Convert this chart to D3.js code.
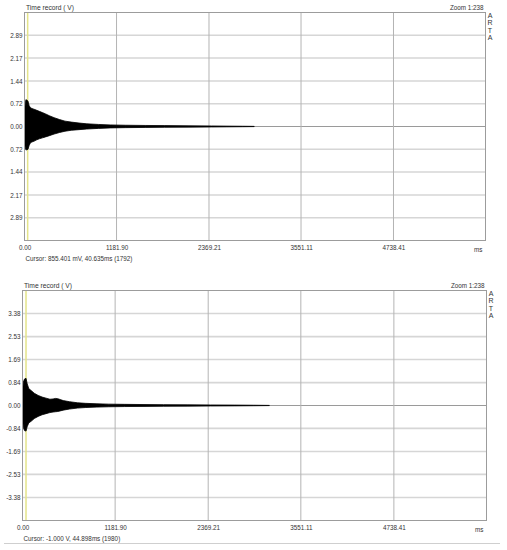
<!DOCTYPE html>
<html><head><meta charset="utf-8">
<script src="https://cdn.jsdelivr.net/npm/d3@7/dist/d3.min.js"></script>
<style>
html,body{margin:0;padding:0;background:#fff;}
svg{display:block;font-family:"Liberation Sans",Arial,sans-serif;}
</style></head>
<body><svg id="c" width="507" height="550"></svg>
<script>
// ---- data ----
const xTickValues = [0, 1181.90, 2369.21, 3551.11, 4738.41];
const xTickLabels = ["0.00", "1181.90", "2369.21", "3551.11", "4738.41"];
const xMax = 5920;

const topYValues = [2.89, 2.17, 1.44, 0.72, 0, -0.72, -1.44, -2.17, -2.89];
const topYLabels = ["2.89", "2.17", "1.44", "0.72", "0.00", "0.72", "1.44", "2.17", "2.89"];
const topYMax = 3.6125;

const botYValues = [3.38, 2.53, 1.69, 0.84, 0, -0.84, -1.69, -2.53, -3.38];
const botYLabels = ["3.38", "2.53", "1.69", "0.84", "0.00", "-0.84", "-1.69", "-2.53", "-3.38"];
const botYMax = 4.225;

// envelope of the time record (ms, upper V, lower V)
const topTime  = [0, 8, 18, 30, 45, 60, 75, 95, 120, 150, 190, 230, 270, 320, 380, 450, 520, 600, 700, 800, 950, 1100, 1300, 1550, 1800, 2100, 2400, 2600, 2800, 2950];
const topUpper = [0.30, 0.70, 0.85, 0.84, 0.80, 0.66, 0.60, 0.57, 0.55, 0.52, 0.48, 0.44, 0.40, 0.34, 0.28, 0.22, 0.17, 0.14, 0.11, 0.085, 0.065, 0.05, 0.04, 0.033, 0.028, 0.022, 0.017, 0.012, 0.008, 0.004];
const topLower = [-0.30, -0.65, -0.74, -0.74, -0.72, -0.60, -0.52, -0.49, -0.47, -0.43, -0.39, -0.36, -0.33, -0.29, -0.24, -0.19, -0.15, -0.12, -0.10, -0.08, -0.06, -0.045, -0.036, -0.03, -0.025, -0.02, -0.015, -0.011, -0.007, -0.003];

const botTime  = [0, 10, 25, 45, 60, 80, 110, 150, 200, 250, 300, 350, 390, 420, 450, 480, 520, 600, 700, 800, 950, 1100, 1300, 1550, 1800, 2100, 2400, 2700, 2950, 3150];
const botUpper = [0.40, 0.85, 0.97, 1.00, 0.80, 0.62, 0.55, 0.45, 0.37, 0.31, 0.27, 0.23, 0.24, 0.26, 0.25, 0.22, 0.18, 0.14, 0.10, 0.08, 0.062, 0.05, 0.042, 0.035, 0.03, 0.025, 0.02, 0.016, 0.01, 0.004];
const botLower = [-0.40, -0.80, -0.92, -0.94, -0.78, -0.64, -0.58, -0.48, -0.40, -0.34, -0.30, -0.26, -0.24, -0.23, -0.22, -0.20, -0.17, -0.13, -0.095, -0.075, -0.058, -0.047, -0.039, -0.033, -0.028, -0.023, -0.018, -0.014, -0.009, -0.003];

const titleText = "Time record ( V)";
const zoomText = "Zoom 1:238";
const brand = ["A", "R", "T", "A"];
const cursorTexts = ["Cursor: 855.401 mV, 40.635ms (1792)", "Cursor: -1.000 V, 44.898ms (1980)"];
const cursorTimes = [40.635, 44.898];

// ---- drawing ----
const svg = d3.select("#c");

function drawChart(o) {
  const g = svg.append("g");
  const x = d3.scaleLinear().domain([0, xMax]).range([o.left, o.right]);
  const y = d3.scaleLinear().domain([-o.yMax, o.yMax]).range([o.bottom, o.top]);

  // horizontal gridlines
  g.append("g").selectAll("line").data(o.yValues).join("line")
    .attr("x1", o.left).attr("x2", o.right)
    .attr("y1", d => y(d)).attr("y2", d => y(d))
    .attr("stroke", d => d === 0 ? "#9a9a9a" : "#d6d6d6")
    .attr("stroke-width", d => d === 0 ? 1 : 1.6);
  // vertical gridlines
  g.append("g").selectAll("line").data(xTickValues.slice(1)).join("line")
    .attr("x1", d => x(d)).attr("x2", d => x(d))
    .attr("y1", o.top).attr("y2", o.bottom)
    .attr("stroke", "#b4b4b4").attr("stroke-width", 1);

  // y axis labels
  const yAxis = d3.axisLeft(y).tickValues(o.yValues)
    .tickFormat((d, i) => o.yLabels[i]).tickSize(0).tickPadding(2);
  const ya = g.append("g").attr("transform", `translate(${o.left},0)`).call(yAxis);
  ya.select(".domain").remove();
  ya.selectAll("text").attr("font-size", 6.3).attr("fill", "#333")
    .attr("font-family", "Liberation Sans, Arial, sans-serif");

  // x axis labels
  const xAxis = d3.axisBottom(x).tickValues(xTickValues)
    .tickFormat((d, i) => xTickLabels[i]).tickSize(0).tickPadding(5);
  const xa = g.append("g").attr("transform", `translate(0,${o.bottom})`).call(xAxis);
  xa.select(".domain").remove();
  xa.selectAll("text").attr("font-size", 6.3).attr("fill", "#333")
    .attr("font-family", "Liberation Sans, Arial, sans-serif");

  // cursor line
  g.append("line")
    .attr("x1", x(o.cursor)).attr("x2", x(o.cursor))
    .attr("y1", o.top).attr("y2", o.bottom)
    .attr("stroke", "#e4e48a").attr("stroke-width", 1.5);

  // waveform envelope
  const pts = o.time.map((t, i) => ({t, u: o.upper[i], l: o.lower[i]}));
  const area = d3.area().x(d => x(d.t)).y0(d => y(d.l)).y1(d => y(d.u)).curve(d3.curveLinear);
  g.append("path").datum(pts).attr("d", area)
    .attr("fill", "#000").attr("stroke", "#000").attr("stroke-width", 0.8);

  // border
  g.append("rect").attr("x", o.left).attr("y", o.top)
    .attr("width", o.right - o.left).attr("height", o.bottom - o.top)
    .attr("fill", "none").attr("stroke", "#9c9c9c").attr("stroke-width", 1);

  // texts
  const txt = (tx, ty, s, anchor, size) => g.append("text").attr("x", tx).attr("y", ty)
    .attr("text-anchor", anchor || "start").attr("font-size", size || 6.3)
    .attr("fill", "#333").text(s);
  txt(o.left + 1.5, o.top - 3, titleText, "start", 6.7);
  txt(o.right - 2, o.top - 3, zoomText, "end", 6.3);
  brand.forEach((c, i) => txt(o.right + 4.5, o.top + 5 + i * 7.6, c, "middle", 7));
  txt(o.right - 3, o.bottom + 11.5, "ms", "end", 6.3);
  txt(o.left + 1, o.bottom + 20.5, o.cursorText, "start", 6.3);
}

drawChart({left: 24.5, right: 485.5, top: 12.5, bottom: 240.5, yMax: topYMax,
  yValues: topYValues, yLabels: topYLabels, time: topTime, upper: topUpper, lower: topLower,
  cursor: cursorTimes[0], cursorText: cursorTexts[0]});
drawChart({left: 22.5, right: 486.5, top: 290.5, bottom: 520.5, yMax: botYMax,
  yValues: botYValues, yLabels: botYLabels, time: botTime, upper: botUpper, lower: botLower,
  cursor: cursorTimes[1], cursorText: cursorTexts[1]});

// bottom separator line
svg.append("line").attr("x1", 4).attr("x2", 500).attr("y1", 543.5).attr("y2", 543.5)
  .attr("stroke", "#cfcfcf").attr("stroke-width", 1);
</script>
</body></html>
